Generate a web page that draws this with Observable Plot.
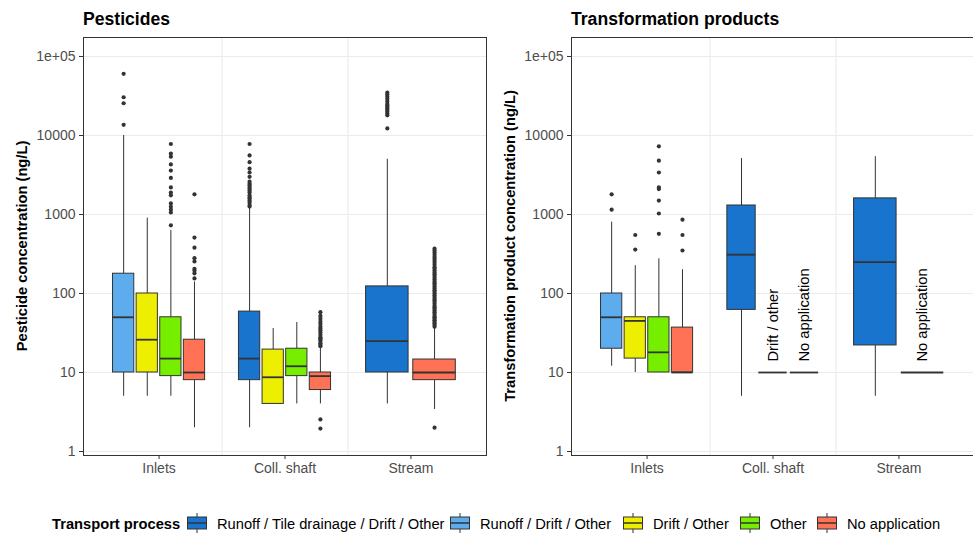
<!DOCTYPE html>
<html>
<head>
<meta charset="utf-8">
<script src="https://cdn.jsdelivr.net/npm/d3@7"></script>
<script src="https://cdn.jsdelivr.net/npm/@observablehq/plot@0.6"></script>
<style>
  html, body { margin: 0; padding: 0; background: #fff; overflow: hidden; }
  #chart { position: relative; width: 973px; height: 533px; overflow: hidden; font-family: "Liberation Sans", Arial, Helvetica, sans-serif; }
  #chart svg { position: absolute; top: 0; }
  #overlay { left: 0; pointer-events: none; }
</style>
</head>
<body>
<div id="chart"></div>
<script>
// ---------- data ----------
const categories = ["Inlets", "Coll. shaft", "Stream"];
const processes = [
  "Runoff / Tile drainage / Drift / Other",
  "Runoff / Drift / Other",
  "Drift / Other",
  "Other",
  "No application"
];
const processColors = ["#1874CD", "#5CACEE", "#EEEE00", "#76EE00", "#FF7256"];
const yTicks = [1, 10, 100, 1000, 10000, 100000];
const yTickLabels = ["1", "10", "100", "1000", "10000", "1e+05"];

// [site, process, lower whisker, Q1, median, Q3, upper whisker]
const pesticideBoxes = [
  ["Inlets", "Runoff / Drift / Other", 5, 10, 50, 178, 10000],
  ["Inlets", "Drift / Other", 5, 10, 26, 100, 900],
  ["Inlets", "Other", 5, 9, 15, 50, 630],
  ["Inlets", "No application", 2, 8, 10, 26, 140],
  ["Coll. shaft", "Runoff / Tile drainage / Drift / Other", 2, 8, 15, 59, 1200],
  ["Coll. shaft", "Drift / Other", 4, 4, 8.7, 19.5, 36],
  ["Coll. shaft", "Other", 4, 9, 12, 20, 43],
  ["Coll. shaft", "No application", 4, 6, 9, 10, 20.5],
  ["Stream", "Runoff / Tile drainage / Drift / Other", 4, 10, 25, 123, 5000],
  ["Stream", "No application", 3.4, 8, 10, 14.6, 37]
];
const pesticideOutliers = [
  ["Inlets", "Runoff / Drift / Other", [13650, 25600, 30500, 60300]],
  ["Inlets", "Other", [730, 1060, 1150, 1250, 1380, 1750, 1900, 2200, 2900, 3600, 4300, 5400, 5900, 7800]],
  ["Inlets", "No application", [155, 180, 195, 205, 254, 280, 380, 510, 1800]],
  ["Coll. shaft", "Runoff / Tile drainage / Drift / Other", [1260, 1320, 1420, 1500, 1580, 1650, 1750, 1900, 2000, 2100, 2200, 2350, 2450, 2600, 3000, 3400, 3800, 4600, 5600, 7800]],
  ["Coll. shaft", "No application", [1.95, 2.55, 21.5, 22.5, 23.5, 25, 26, 27, 28, 30, 32, 34, 36, 38, 41, 44, 48, 52, 58]],
  ["Stream", "Runoff / Tile drainage / Drift / Other", [12300, 18000, 19000, 20000, 21000, 22000, 23000, 24000, 25000, 27000, 29000, 31000, 33000, 35000]],
  ["Stream", "No application", [2, 38, 40, 42, 44, 46, 48, 50, 52, 55, 58, 61, 64, 67, 70, 74, 78, 82, 86, 90, 95, 100, 105, 110, 116, 122, 128, 135, 142, 150, 158, 166, 175, 185, 195, 205, 215, 230, 245, 260, 275, 290, 310, 330, 350, 370]]
];

const tpBoxes = [
  ["Inlets", "Runoff / Drift / Other", 12, 20, 50, 100, 800],
  ["Inlets", "Drift / Other", 10, 15, 45, 50, 225],
  ["Inlets", "Other", 10, 10, 18, 50, 275],
  ["Inlets", "No application", 10, 10, 10, 37, 200],
  ["Coll. shaft", "Runoff / Tile drainage / Drift / Other", 5, 62, 310, 1300, 5100],
  ["Coll. shaft", "Drift / Other", 10, 10, 10, 10, 10],
  ["Coll. shaft", "No application", 10, 10, 10, 10, 10],
  ["Stream", "Runoff / Tile drainage / Drift / Other", 5, 22, 250, 1600, 5400],
  ["Stream", "No application", 10, 10, 10, 10, 10]
];
const tpOutliers = [
  ["Inlets", "Runoff / Drift / Other", [1150, 1800]],
  ["Inlets", "Drift / Other", [360, 550]],
  ["Inlets", "Other", [570, 1030, 1500, 2100, 2200, 3400, 4800, 7300]],
  ["Inlets", "No application", [350, 550, 860]]
];
const tpNotes = [
  ["Coll. shaft", "Drift / Other", "Drift / other"],
  ["Coll. shaft", "No application", "No application"],
  ["Stream", "No application", "No application"]
];

// ---------- helpers ----------
const FONT = '"Liberation Sans", Arial, Helvetica, sans-serif';
const dodgeWidth = 0.75, boxRatio = 0.9;
const INK = "#333333";

function layout(rows) {
  return rows.map(r => {
    const [site, proc, low, q1, med, q3, high] = r;
    const group = rows.filter(s => s[0] === site);
    const n = group.length, i = group.indexOf(r);
    const slot = dodgeWidth / n;
    const c = categories.indexOf(site) + 1 + (i - (n - 1) / 2) * slot;
    return {site, proc, low, q1, med, q3, high, x: c,
      x1: c - slot * boxRatio / 2, x2: c + slot * boxRatio / 2};
  });
}

function panel(rows, outliers, notes, opts) {
  const boxes = layout(rows);
  const find = (site, proc) => boxes.find(b => b.site === site && b.proc === proc);
  const dots = outliers.flatMap(([site, proc, vals]) => {
    const b = find(site, proc);
    return vals.map(v => ({x: b.x, y: v, proc}));
  });
  const labels = notes.map(([site, proc, text]) => ({x: find(site, proc).x, text}));
  const gridX = d3.range(1, categories.length).map(i => i + 0.5);
  return Plot.plot({
    width: opts.width,
    height: 480,
    marginLeft: opts.marginLeft,
    marginRight: opts.marginRight,
    marginTop: 37,
    marginBottom: 25,
    style: {fontFamily: FONT, fontSize: "14px", background: "transparent", overflow: "visible"},
    x: {type: "linear", domain: [0.4, categories.length + 0.6], axis: null},
    y: {type: "log", domain: [10 ** -0.0506, 10 ** 5.2405], axis: null},
    color: {domain: processes, range: processColors},
    marks: [
      Plot.ruleY(yTicks, {stroke: "#EBEBEB", strokeWidth: 1.1}),
      Plot.ruleX(gridX, {stroke: "#EBEBEB", strokeWidth: 1.1}),
      Plot.ruleX(boxes, {x: "x", y1: "low", y2: "q1", stroke: INK, strokeWidth: 1}),
      Plot.ruleX(boxes, {x: "x", y1: "q3", y2: "high", stroke: INK, strokeWidth: 1}),
      Plot.rect(boxes, {x1: "x1", x2: "x2", y1: "q1", y2: "q3", fill: "proc", stroke: INK, strokeWidth: 1}),
      Plot.ruleY(boxes, {x1: "x1", x2: "x2", y: "med", stroke: INK, strokeWidth: 1.8}),
      Plot.dot(dots, {x: "x", y: "y", r: 2.1, fill: INK, stroke: "none"}),
      Plot.text(labels, {x: "x", y: () => 10, text: "text", rotate: -90, textAnchor: "start",
        lineAnchor: "middle", dy: -11, fontSize: 14.7, fill: "#000"}),
      Plot.frame({stroke: INK, strokeWidth: 1}),
      Plot.axisX(d3.range(1, categories.length + 1), {
        tickFormat: d => categories[d - 1], tickSize: 4, tickPadding: 4,
        stroke: INK, fill: "#4D4D4D", fontSize: 14, label: null
      }),
      Plot.axisY(yTicks, {
        tickFormat: d => yTickLabels[yTicks.indexOf(d)], tickSize: 4, tickPadding: 4,
        stroke: INK, fill: "#4D4D4D", fontSize: 14, label: null
      })
    ]
  });
}

const chart = document.getElementById("chart");
const left = panel(pesticideBoxes, pesticideOutliers, [], {width: 490, marginLeft: 83, marginRight: 4});
left.style.left = "0px";
chart.appendChild(left);
const right = panel(tpBoxes, tpOutliers, tpNotes, {width: 484, marginLeft: 81, marginRight: 0});
right.style.left = "490px";
chart.appendChild(right);

// ---------- titles, axis titles, legend ----------
const ov = d3.select(chart).append("svg").attr("id", "overlay")
  .attr("width", 973).attr("height", 533)
  .style("font-family", FONT);

ov.append("text").attr("x", 83).attr("y", 25).attr("font-size", 17.6).attr("font-weight", "bold").text("Pesticides");
ov.append("text").attr("x", 571).attr("y", 25).attr("font-size", 17.6).attr("font-weight", "bold").text("Transformation products");

ov.append("text").attr("transform", "translate(27,246) rotate(-90)").attr("text-anchor", "middle")
  .attr("font-size", 14.7).attr("font-weight", "bold").text("Pesticide concentration (ng/L)");
ov.append("text").attr("transform", "translate(515,246) rotate(-90)").attr("text-anchor", "middle")
  .attr("font-size", 14.7).attr("font-weight", "bold").text("Transformation product concentration (ng/L)");

ov.append("text").attr("x", 52).attr("y", 529).attr("font-size", 14.7).attr("font-weight", "bold").text("Transport process");
const keyCenters = [197, 460, 633, 750, 827];
processes.forEach((p, i) => {
  const g = ov.append("g").attr("transform", `translate(${keyCenters[i]},523)`);
  g.append("line").attr("x1", 0).attr("x2", 0).attr("y1", -10).attr("y2", 10).attr("stroke", INK);
  g.append("rect").attr("x", -9.5).attr("y", -6).attr("width", 19).attr("height", 12)
    .attr("fill", processColors[i]).attr("stroke", INK);
  g.append("line").attr("x1", -9.5).attr("x2", 9.5).attr("y1", 0).attr("y2", 0).attr("stroke", INK).attr("stroke-width", 1.5);
  ov.append("text").attr("x", keyCenters[i] + 20).attr("y", 529).attr("font-size", 14.7).text(p);
});
</script>
</body>
</html>
